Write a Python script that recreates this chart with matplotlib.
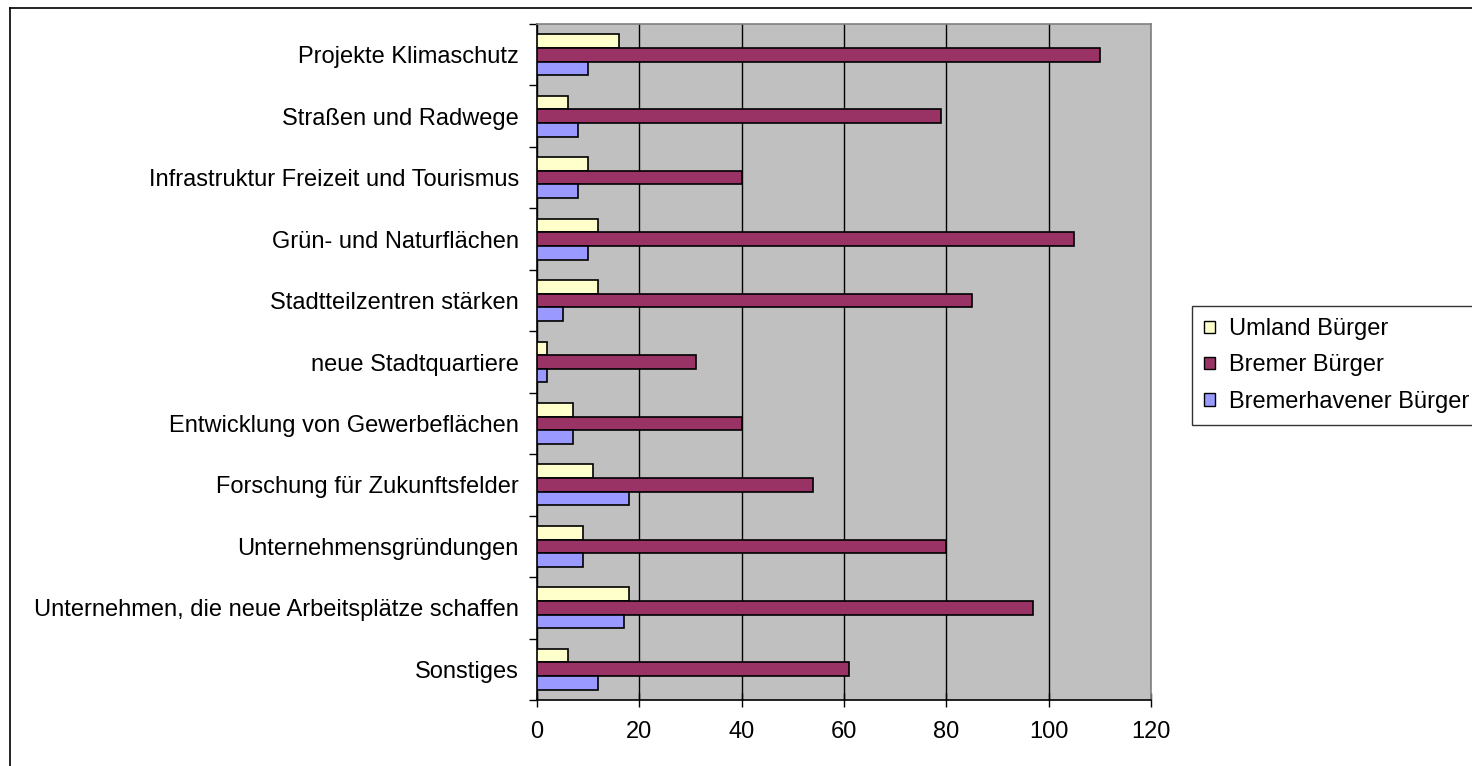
import matplotlib
matplotlib.use("Agg")
import matplotlib.pyplot as plt
from matplotlib.patches import Patch
from matplotlib.lines import Line2D
import numpy as np

plt.rcParams['font.family'] = ['Liberation Sans', 'DejaVu Sans']

categories = ["Projekte Klimaschutz", "Straßen und Radwege",
              "Infrastruktur Freizeit und Tourismus", "Grün- und Naturflächen",
              "Stadtteilzentren stärken", "neue Stadtquartiere",
              "Entwicklung von Gewerbeflächen", "Forschung für Zukunftsfelder",
              "Unternehmensgründungen",
              "Unternehmen, die neue Arbeitsplätze schaffen", "Sonstiges"]
umland = [16, 6, 10, 12, 12, 2, 7, 11, 9, 18, 6]
bremer = [110, 79, 40, 105, 85, 31, 40, 54, 80, 97, 61]
bremerhaven = [10, 8, 8, 10, 5, 2, 7, 18, 9, 17, 12]
series_names = ["Umland Bürger", "Bremer Bürger", "Bremerhavener Bürger"]
colors = ["#FFFFCC", "#993366", "#9999FF"]
xticks = [0, 20, 40, 60, 80, 100, 120]

W, H = 1472, 766
fig = plt.figure(figsize=(W / 100, H / 100), dpi=100)
ax = fig.add_axes([537 / W, 1 - 700 / H, (1151 - 537) / W, (700 - 24) / H])
ax.set_facecolor("#C0C0C0")

y = np.arange(len(categories))
h = 0.222
for k, (vals, col) in enumerate(zip([umland, bremer, bremerhaven], colors)):
    ax.barh(y + (k - 1) * h, vals, height=h, color=col, edgecolor="black",
            linewidth=1.2, zorder=3)

ax.set_xlim(0, 120)
ax.set_ylim(len(categories) - 0.5, -0.5)
ax.set_xticks(xticks)
ax.set_xticklabels([str(t) for t in xticks])
ax.xaxis.grid(True, color="black", linewidth=1, zorder=1)
ax.set_axisbelow(True)

ax.set_yticks(y)
ax.set_yticklabels(categories)
ax.set_yticks(np.arange(len(categories) + 1) - 0.5, minor=True)
ax.tick_params(axis="y", which="major", length=0, pad=13, labelsize=17)
ax.tick_params(axis="y", which="minor", length=6, width=1, color="black")
ax.tick_params(axis="x", which="major", length=10, direction="inout",
               width=1, pad=10, labelsize=17)

for s in ["left", "bottom"]:
    ax.spines[s].set_color("black")
    ax.spines[s].set_linewidth(1.2)
for s in ["top", "right"]:
    ax.spines[s].set_color("#808080")
    ax.spines[s].set_linewidth(1.2)

handles = [Patch(facecolor=c, edgecolor="black", linewidth=1) for c in colors]
leg = fig.legend(handles, series_names, loc="upper left",
                 bbox_to_anchor=(1192 / W, 1 - 306 / H), fontsize=17,
                 frameon=True, fancybox=False, edgecolor="black",
                 handlelength=0.45, handleheight=0.45, handletextpad=0.6,
                 borderpad=0.52, labelspacing=0.6, borderaxespad=0)
leg.get_frame().set_linewidth(1)

# outer chart border (left and top visible)
fig.add_artist(Line2D([10 / W, 10 / W], [0, 1 - 8 / H], color="black",
                      linewidth=1.2, transform=fig.transFigure))
fig.add_artist(Line2D([10 / W, 1], [1 - 8 / H, 1 - 8 / H], color="black",
                      linewidth=1.2, transform=fig.transFigure))

fig.savefig("out.png", dpi=100)
